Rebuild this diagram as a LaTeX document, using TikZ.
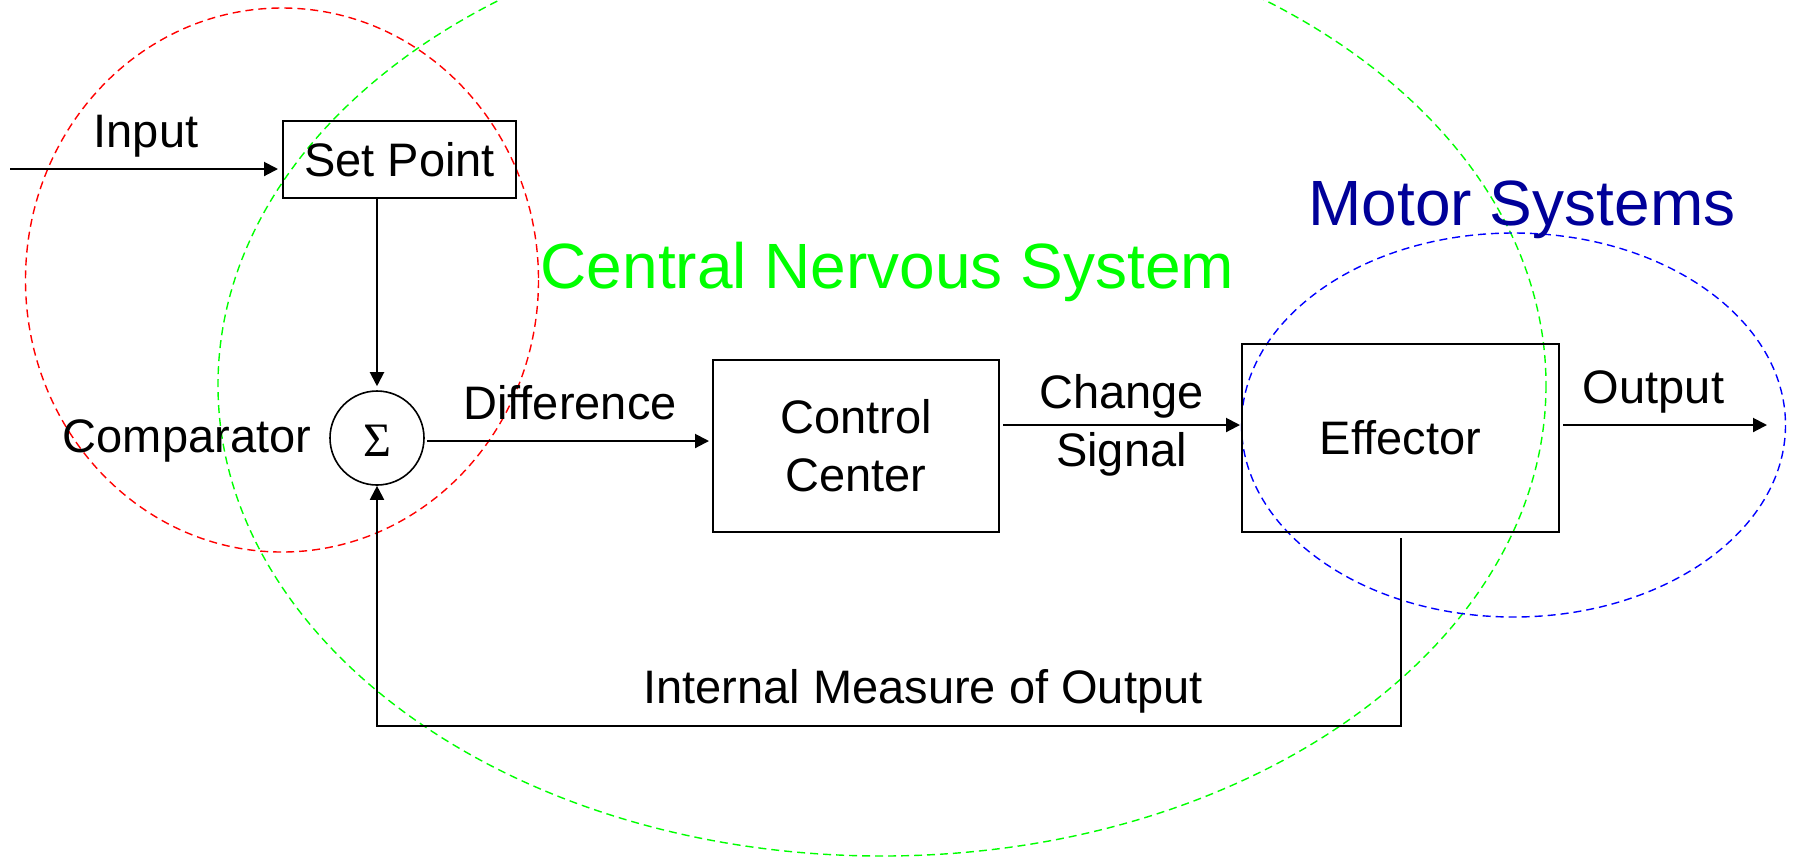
\documentclass[tikz,border=0pt]{standalone}
\usepackage{fontspec}
\setmainfont{Liberation Sans}
\newfontfamily\sigmafont{Liberation Serif}
\usetikzlibrary{arrows.meta,calc}

\definecolor{cnsgreen}{RGB}{0,255,0}
\definecolor{motorblue}{RGB}{0,0,153}

\begin{document}
\begin{tikzpicture}[x=0.5pt,y=-0.5pt,
  every node/.style={font=\fontsize{23.5}{29}\selectfont, inner sep=0pt},
  blockbox/.style={draw=black, line width=1pt, minimum width=#1, align=center},
  arr/.style={line width=1pt, -{Triangle[length=7pt,width=7pt]}},
  wire/.style={line width=1pt},
  region/.style={dashed, dash pattern=on 4pt off 2.5pt, line width=0.7pt},
  bigtitle/.style={font=\fontsize{32}{38}\selectfont, anchor=base}
]
% canvas
\useasboundingbox (0,0) rectangle (1793,859);

% region outlines
\draw[region, red] (282,280) ellipse [x radius=256.5, y radius=272];
\draw[region, cnsgreen] (882,385) ellipse [x radius=664, y radius=471];
\draw[region, blue] (1513.5,425) ellipse [x radius=272, y radius=192];

% blocks
\node[blockbox=116.5pt, minimum height=38.5pt] (sp) at (399.5,159.5) {Set Point};
\node[draw, circle, line width=0.8pt, minimum size=47pt] (sum) at (377,438) {};
\node[font=\sigmafont\fontsize{24}{29}\selectfont] (sigma) at (377,441) {Σ};
\node[blockbox=143pt, minimum height=86pt] (cc) at (856,446) {Control\\Center};
\node[blockbox=158.5pt, minimum height=94pt] (eff) at (1400.5,438) {Effector};

% helper coordinates for the signal lines
\coordinate (inStart) at (10,169);
\coordinate (diffY) at (0,441);
\coordinate (sigY) at (0,425);
\coordinate (outEnd) at (1767,425);
\coordinate (fb) at (0,726);

% signal lines
\draw[arr, shorten >=2pt] (inStart) -- (inStart -| sp.west);
\draw[arr, shorten >=2pt] (sp.south -| sum.north) -- (sum.north);
\draw[arr, shorten <=1pt, shorten >=1.5pt] (sum.east |- diffY) -- (cc.west |- diffY);
\draw[arr, shorten <=1.5pt, shorten >=0.5pt] (cc.east |- sigY) -- (eff.west |- sigY);
\draw[arr, shorten <=1.5pt] (eff.east |- sigY) -- (outEnd);
\draw[arr, shorten <=2.5pt] (eff.south) -- (eff.south |- fb) -- (sum.south |- fb) -- (sum.south);

% labels
\node[anchor=base] (lin) at (146,147) {Input};
\node[anchor=base] (lcmp) at (187,452) {Comparator};
\node[anchor=base] (ldiff) at (570,419) {Difference};
\node[align=center] (lchg) at (1121.5,425) {Change\\Signal};
\node[anchor=base] (lout) at (1653.5,403) {Output};
\node[anchor=base] (lfb) at (923,703) {Internal Measure of Output};
\node[bigtitle, text=cnsgreen] (lcns) at (887.5,288) {Central Nervous System};
\node[bigtitle, text=motorblue] (lmot) at (1522,225) {Motor Systems};
\end{tikzpicture}
\end{document}
